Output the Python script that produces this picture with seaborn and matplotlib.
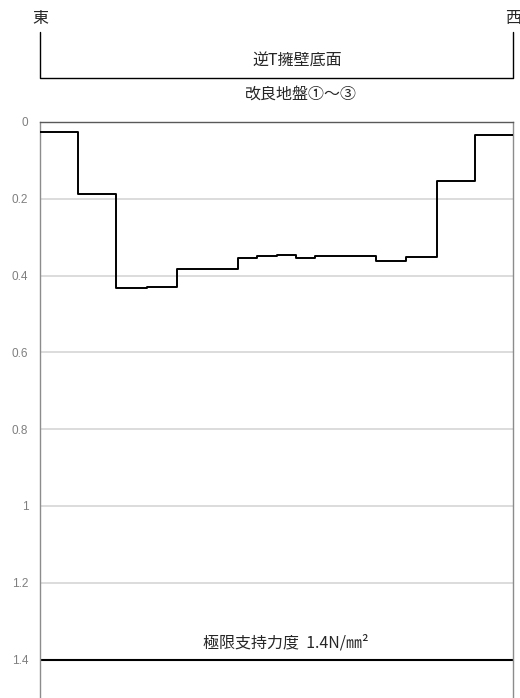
import matplotlib
matplotlib.use("Agg")
import matplotlib.pyplot as plt
import matplotlib.transforms as mtransforms
from matplotlib.lines import Line2D
import seaborn as sns
import pandas as pd

# ---- data ----
boundaries = [0, 2, 4, 5.6, 7.2, 10.4, 11.4, 12.4, 13.4, 14.4, 17.6, 19.2, 20.8, 22.8, 24.8]
pressure = [0.026, 0.188, 0.432, 0.429, 0.382, 0.355, 0.350, 0.347, 0.354, 0.349, 0.361, 0.351, 0.154, 0.034]
ultimate_capacity = 1.4
y_ticks = [0, 0.2, 0.4, 0.6, 0.8, 1.0, 1.2, 1.4]
y_tick_labels = ["0", "0.2", "0.4", "0.6", "0.8", "1", "1.2", "1.4"]
label_east = "東"
label_west = "西"
label_wall = "逆T擁壁底面"
label_ground = "改良地盤①～③"
label_capacity = "極限支持力度  1.4N/㎜²"

df = pd.DataFrame({"x": boundaries, "p": pressure + [pressure[-1]]})

sns.set_theme(style="white")
plt.rcParams["font.family"] = ["Noto Sans CJK JP", "DejaVu Sans"]

W, H = 520, 698
fig = plt.figure(figsize=(W / 100, H / 100), dpi=100)
ax = fig.add_axes([40 / W, 0, (513 - 40) / W, (698 - 122) / H])

sns.lineplot(data=df, x="x", y="p", ax=ax, drawstyle="steps-post",
             estimator=None, sort=False, color="black", linewidth=1.4, zorder=3)

ax.set_xlim(boundaries[0], boundaries[-1])
ax.set_ylim(1.5, 0)
ax.set_yticks(y_ticks)
ax.set_yticklabels(y_tick_labels, fontsize=8.5, color="#7f7f7f",
                   family=["Liberation Sans", "DejaVu Sans"])
ax.tick_params(axis="y", length=0, pad=8.5)
ax.set_xticks([])
ax.set_xlabel("")
ax.set_ylabel("")

for t in y_ticks[1:-1]:
    ax.axhline(t, color="#d9d9d9", linewidth=1.3, zorder=1)
ax.axhline(ultimate_capacity, color="black", linewidth=1.5, zorder=2)

for side in ["left", "right"]:
    ax.spines[side].set_color("#8c8c8c")
    ax.spines[side].set_linewidth(1.0)
ax.spines["top"].set_color("#595959")
ax.spines["top"].set_linewidth(1.0)
ax.spines["bottom"].set_visible(False)

# bracket above axes: x in axes fraction, y in figure fraction
trans = mtransforms.blended_transform_factory(ax.transAxes, fig.transFigure)
y_top = 1 - 32 / H
y_bot = 1 - 78 / H
bracket = Line2D([0, 0, 1, 1], [y_top, y_bot, y_bot, y_top], transform=trans,
                 color="black", linewidth=1.0, clip_on=False)
fig.add_artist(bracket)

fs = 11.5
fig.text(0, 1 - 18.5 / H, label_east, transform=trans, ha="center", va="center", fontsize=fs)
fig.text(1, 1 - 18.5 / H, label_west, transform=trans, ha="center", va="center", fontsize=fs)
fig.text(297 / W, 1 - 61.5 / H, label_wall, ha="center", va="center", fontsize=fs)
fig.text(301 / W, 1 - 94 / H, label_ground, ha="center", va="center", fontsize=fs)
fig.text(286 / W, 1 - 643.5 / H, label_capacity, ha="center", va="center", fontsize=fs)

fig.savefig("out.png", dpi=100)
